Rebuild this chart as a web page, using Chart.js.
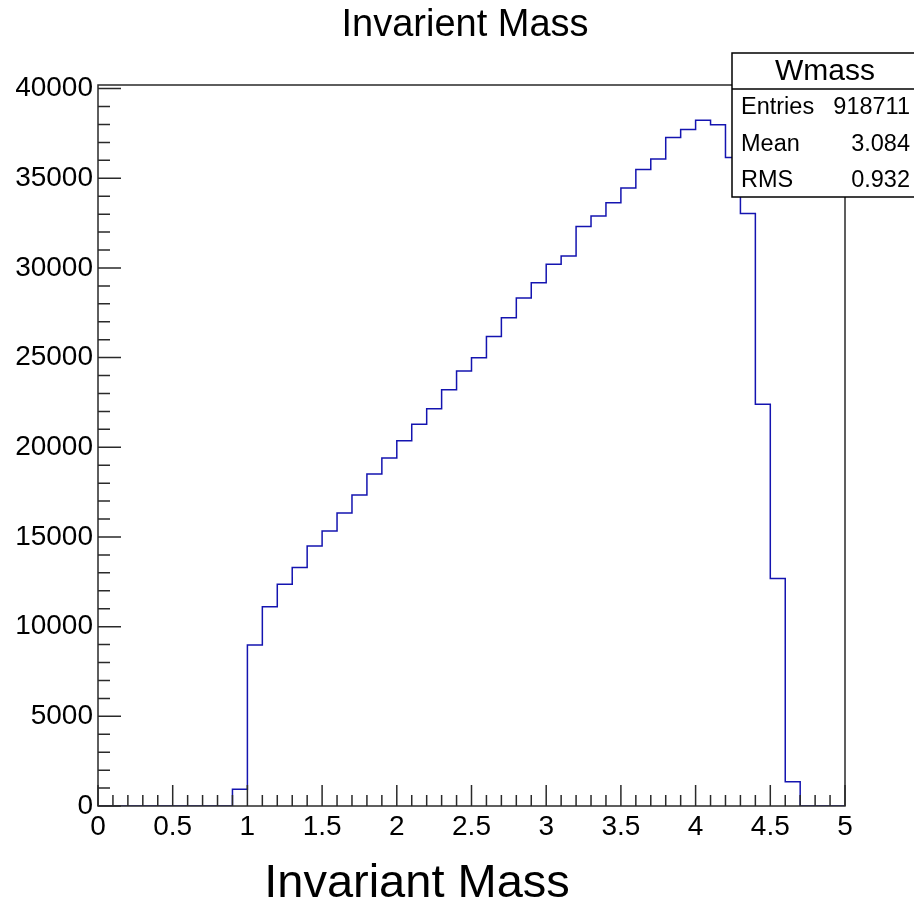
<!DOCTYPE html>
<html>
<head>
<meta charset="utf-8">
<script src="https://cdn.jsdelivr.net/npm/chart.js@4/dist/chart.umd.min.js"></script>
<style>
  html, body { margin: 0; padding: 0; background: #fff; }
  canvas { display: block; }
</style>
</head>
<body>
<canvas id="c" width="914" height="902"></canvas>
<script>
// ---- data ----
const chartTitle = 'Invarient Mass';
const xAxisTitle = 'Invariant Mass';
const histName = 'Wmass';
const statLabels = ['Entries', 'Mean', 'RMS'];
const statValues = ['918711', '3.084', '0.932'];

// tick labels
const xTickValues = [0, 0.5, 1, 1.5, 2, 2.5, 3, 3.5, 4, 4.5, 5];
const yTickValues = [0, 5000, 10000, 15000, 20000, 25000, 30000, 35000, 40000];

// bin edges (51 edges, 50 bins of width 0.1)
const binEdges = [0.0,0.1,0.2,0.3,0.4,0.5,0.6,0.7,0.8,0.9,
                  1.0,1.1,1.2,1.3,1.4,1.5,1.6,1.7,1.8,1.9,
                  2.0,2.1,2.2,2.3,2.4,2.5,2.6,2.7,2.8,2.9,
                  3.0,3.1,3.2,3.3,3.4,3.5,3.6,3.7,3.8,3.9,
                  4.0,4.1,4.2,4.3,4.4,4.5,4.6,4.7,4.8,4.9,5.0];
// counts per bin
const binCounts = [0,0,0,0,0,0,0,0,0,930,
                   8970,11110,12370,13300,14490,15330,16330,17340,18510,19400,
                   20360,21280,22150,23210,24250,24990,26180,27220,28330,29170,
                   30200,30670,32310,32900,33630,34460,35490,36080,37270,37720,
                   38240,37980,36160,33040,22400,12690,1350,0,0,0];

const FONT = '"Liberation Sans", Arial, Helvetica, sans-serif';

// stepped outline points: each bin's value held from its low edge to its high edge
const points = binEdges.map((e, i) => ({ x: e, y: binCounts[Math.min(i, binCounts.length - 1)] }));

const rootDecor = {
  id: 'rootDecor',
  afterDatasetsDraw(chart) {
    const { ctx, chartArea: a, scales } = chart;
    const x = scales.x, y = scales.y;
    ctx.save();
    ctx.strokeStyle = '#2a2a2a';
    ctx.lineWidth = 1.5;
    ctx.strokeRect(a.left, a.top, a.right - a.left, a.bottom - a.top);
    ctx.beginPath();
    for (let i = 0; i <= 50; i++) {
      const px = x.getPixelForValue(i / 10);
      const len = (i % 5 === 0) ? 21 : 11;
      ctx.moveTo(px, a.bottom);
      ctx.lineTo(px, a.bottom - len);
    }
    for (let i = 0; i <= 40; i++) {
      const py = y.getPixelForValue(i * 1000);
      const len = (i % 5 === 0) ? 23 : 12;
      ctx.moveTo(a.left, py);
      ctx.lineTo(a.left + len, py);
    }
    ctx.stroke();
    ctx.restore();
  },
  afterDraw(chart) {
    const { ctx } = chart;
    ctx.save();
    ctx.fillStyle = '#000';
    ctx.font = '47px ' + FONT;
    ctx.textAlign = 'center';
    ctx.textBaseline = 'alphabetic';
    ctx.fillText(xAxisTitle, 417, 897);

    const bx = 732, by = 53, bw = 200, bh = 144;
    ctx.fillStyle = '#fff';
    ctx.fillRect(bx, by, bw, bh);
    ctx.strokeStyle = '#000';
    ctx.lineWidth = 1.5;
    ctx.strokeRect(bx, by, bw, bh);
    ctx.beginPath();
    ctx.moveTo(bx, 89);
    ctx.lineTo(bx + bw, 89);
    ctx.stroke();
    ctx.fillStyle = '#000';
    ctx.font = '30px ' + FONT;
    ctx.textAlign = 'center';
    ctx.textBaseline = 'middle';
    ctx.fillText(histName, 825, 72);
    ctx.font = '23.5px ' + FONT;
    const rowsY = [108, 145, 181];
    statLabels.forEach((lab, i) => {
      ctx.textAlign = 'left';
      ctx.fillText(lab, 741, rowsY[i]);
      ctx.textAlign = 'right';
      ctx.fillText(statValues[i], 910, rowsY[i]);
    });
    ctx.restore();
  }
};

new Chart(document.getElementById('c'), {
  type: 'line',
  data: {
    datasets: [{
      data: points,
      stepped: 'before',
      borderColor: '#1414b0',
      borderWidth: 1.5,
      pointRadius: 0,
      fill: false,
      tension: 0,
      xAxisID: 'x',
      yAxisID: 'y'
    }]
  },
  options: {
    responsive: false,
    animation: false,
    devicePixelRatio: 1,
    layout: { padding: { left: 16, right: 0, top: 0, bottom: 0 } },
    plugins: {
      legend: { display: false },
      tooltip: { enabled: false },
      title: {
        display: true,
        text: chartTitle,
        color: '#000',
        font: { family: FONT, size: 38, weight: 'normal', lineHeight: 1.2 },
        padding: { top: 3, bottom: 36.4 }
      }
    },
    scales: {
      x: {
        type: 'linear',
        position: 'bottom',
        min: 0, max: 5,
        grid: { display: false, drawTicks: false },
        border: { display: false },
        afterBuildTicks: s => { s.ticks = xTickValues.map(v => ({ value: v })); },
        ticks: {
          padding: 4,
          color: '#000',
          maxRotation: 0,
          autoSkip: false,
          font: { family: FONT, size: 28 },
          callback: v => String(v)
        },
        afterFit: s => { s.height = 96; }
      },
      y: {
        type: 'linear',
        position: 'left',
        min: 0, max: 40200,
        grid: { display: false, drawTicks: false },
        border: { display: false },
        afterBuildTicks: s => { s.ticks = yTickValues.map(v => ({ value: v })); },
        ticks: {
          padding: 5,
          color: '#000',
          autoSkip: false,
          font: { family: FONT, size: 28 },
          callback: v => String(v)
        },
        afterFit: s => { s.width = 82; }
      },
      yR: {
        type: 'linear',
        position: 'right',
        min: 0, max: 40200,
        grid: { display: false, drawTicks: false },
        border: { display: false },
        ticks: { display: false },
        afterFit: s => { s.width = 69; }
      }
    }
  },
  plugins: [rootDecor]
});
</script>
</body>
</html>
